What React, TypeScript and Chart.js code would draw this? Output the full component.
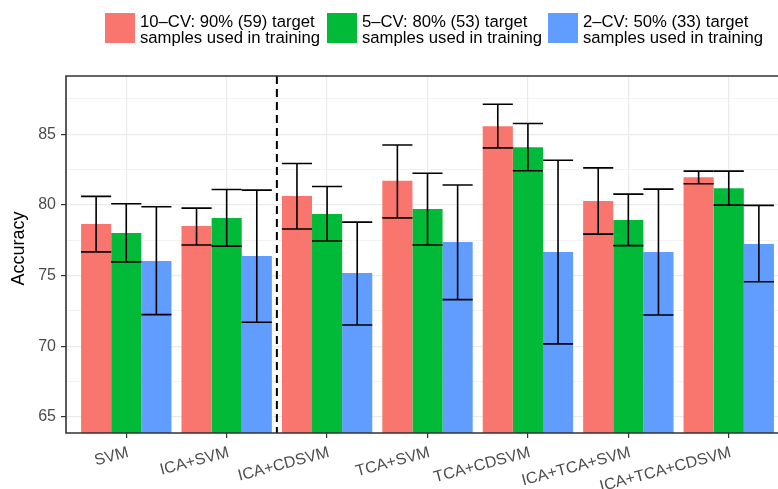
import React, { useEffect, useRef } from "react";
import { Chart, registerables } from "chart.js";

Chart.register(...registerables);

const categories = ["SVM", "ICA+SVM", "ICA+CDSVM", "TCA+SVM", "TCA+CDSVM", "ICA+TCA+SVM", "ICA+TCA+CDSVM"];

const legendLines = [
  ["10–CV: 90% (59) target", "samples used in training"],
  ["5–CV: 80% (53) target", "samples used in training"],
  ["2–CV: 50% (33) target", "samples used in training"],
];

const cv10 = [78.65, 78.5, 80.62, 81.7, 85.56, 80.27, 81.96];
const cv10Lo = [76.67, 77.16, 78.29, 79.08, 84.03, 77.93, 81.49];
const cv10Hi = [80.6, 79.77, 82.93, 84.24, 87.12, 82.62, 82.39];

const cv5 = [78.0, 79.06, 79.35, 79.7, 84.08, 78.92, 81.18];
const cv5Lo = [75.96, 77.08, 77.44, 77.16, 82.41, 77.11, 79.98];
const cv5Hi = [80.08, 81.09, 81.3, 82.24, 85.76, 80.76, 82.39];

const cv2 = [76.03, 76.38, 75.18, 77.37, 76.66, 76.66, 77.23];
const cv2Lo = [72.23, 71.69, 71.5, 73.29, 70.16, 72.2, 74.56];
const cv2Hi = [79.87, 81.04, 78.78, 81.4, 83.16, 81.11, 79.96];

const yTicks = [65, 67.5, 70, 72.5, 75, 77.5, 80, 82.5, 85, 87.5];
const yMin = 63.85;
const yMax = 89.12;
const dividerAt = 1.5;

const colors = ["#F8766D", "#00BA38", "#619CFF"];
const FONT = '"Liberation Sans", Arial, Helvetica, sans-serif';

export default function App() {
  const ref = useRef<HTMLCanvasElement | null>(null);

  useEffect(() => {
    const canvas = ref.current;
    if (!canvas) return;
    const means = [cv10, cv5, cv2];
    const los = [cv10Lo, cv5Lo, cv2Lo];
    const his = [cv10Hi, cv5Hi, cv2Hi];

    const overlay = {
      id: "overlay",
      afterDatasetsDraw(chart: any) {
        const ctx = chart.ctx;
        const ys = chart.scales.y;
        const xs = chart.scales.x;
        const area = chart.chartArea;
        ctx.save();
        // error bars
        ctx.strokeStyle = "#000";
        ctx.lineWidth = 1.6;
        ctx.lineCap = "butt";
        means.forEach((_, i) => {
          const meta = chart.getDatasetMeta(i);
          meta.data.forEach((bar: any, j: number) => {
            const x = bar.x;
            const w = bar.width;
            const yl = ys.getPixelForValue(los[i][j]);
            const yh = ys.getPixelForValue(his[i][j]);
            ctx.beginPath();
            ctx.moveTo(x, yh);
            ctx.lineTo(x, yl);
            ctx.moveTo(x - w / 2, yh);
            ctx.lineTo(x + w / 2, yh);
            ctx.moveTo(x - w / 2, yl);
            ctx.lineTo(x + w / 2, yl);
            ctx.stroke();
          });
        });
        // dashed divider
        const dx = xs.getPixelForValue(dividerAt);
        ctx.setLineDash([8, 5]);
        ctx.lineWidth = 2;
        ctx.beginPath();
        ctx.moveTo(dx, area.top);
        ctx.lineTo(dx, area.bottom);
        ctx.stroke();
        ctx.setLineDash([]);
        // panel border
        ctx.strokeStyle = "#333333";
        ctx.lineWidth = 1.6;
        ctx.beginPath();
        ctx.moveTo(area.right, area.top);
        ctx.lineTo(area.left, area.top);
        ctx.lineTo(area.left, area.bottom);
        ctx.lineTo(area.right, area.bottom);
        ctx.lineTo(area.right, area.top);
        ctx.stroke();
        ctx.restore();
      },
      afterDraw(chart: any) {
        const ctx = chart.ctx;
        ctx.save();
        // legend
        const boxX = [105, 327, 548];
        legendLines.forEach((lines, i) => {
          ctx.fillStyle = colors[i];
          ctx.fillRect(boxX[i], 13, 30, 30);
          ctx.fillStyle = "#000";
          ctx.font = `16.7px ${FONT}`;
          ctx.textAlign = "left";
          ctx.textBaseline = "alphabetic";
          ctx.fillText(lines[0], boxX[i] + 35, 27);
          ctx.fillText(lines[1], boxX[i] + 35, 43);
        });
        // y title
        ctx.translate(23.5, 248.5);
        ctx.rotate(-Math.PI / 2);
        ctx.font = `18px ${FONT}`;
        ctx.textAlign = "center";
        ctx.textBaseline = "alphabetic";
        ctx.fillStyle = "#000";
        ctx.fillText("Accuracy", 0, 0);
        ctx.restore();
      },
    };

    const chart = new Chart(canvas, {
      type: "bar",
      data: {
        datasets: means.map((arr, i) => ({
          label: legendLines[i].join(" "),
          data: arr.map((v, j) => ({ x: j, y: v })),
          backgroundColor: colors[i],
          borderWidth: 0,
          base: yMin,
          categoryPercentage: 0.9,
          barPercentage: 1.0,
        })),
      },
      options: {
        responsive: false,
        animation: false,
        events: [],
        layout: { padding: { top: 76, right: 11, left: 0, bottom: 0 } },
        plugins: { legend: { display: false }, tooltip: { enabled: false } },
        scales: {
          x: {
            type: "linear",
            min: -0.6,
            max: 6.6,
            offset: false,
            afterBuildTicks: (s: any) => {
              s.ticks = categories.map((_, i) => ({ value: i }));
            },
            afterFit: (s: any) => {
              s.height = 56;
            },
            ticks: {
              autoSkip: false,
              minRotation: 15,
              maxRotation: 15,
              padding: 5,
              labelOffset: 2,
              color: "#4d4d4d",
              font: { family: FONT, size: 16 },
              callback: (v: any) => categories[v as number] ?? "",
            },
            grid: {
              offset: false,
              color: "#ebebeb",
              lineWidth: 1.2,
              tickColor: "#333333",
              tickLength: 5,
            },
            border: { display: false },
          },
          y: {
            type: "linear",
            min: yMin,
            max: yMax,
            afterBuildTicks: (s: any) => {
              s.ticks = yTicks.map((v) => ({ value: v }));
            },
            afterFit: (s: any) => {
              s.width = 66;
            },
            ticks: {
              padding: 5,
              color: "#4d4d4d",
              font: { family: FONT, size: 16 },
              callback: (v: any) => (Number(v) % 5 === 0 ? String(v) : ""),
            },
            grid: {
              color: "#ebebeb",
              lineWidth: (c: any) => (c.tick && c.tick.value % 5 === 0 ? 1.2 : 0.6),
              tickColor: (c: any) => (c.tick && c.tick.value % 5 === 0 ? "#333333" : "rgba(0,0,0,0)"),
              tickLength: 5,
            },
            border: { display: false },
          },
        },
      },
      plugins: [overlay],
    } as any);

    return () => chart.destroy();
  }, []);

  return (
    <div style={{ position: "fixed", left: 0, top: 0, width: 778, height: 489, overflow: "hidden", background: "#fff" }}>
      <canvas ref={ref} width={800} height={489} style={{ display: "block", width: 800, height: 489 }} />
    </div>
  );
}
